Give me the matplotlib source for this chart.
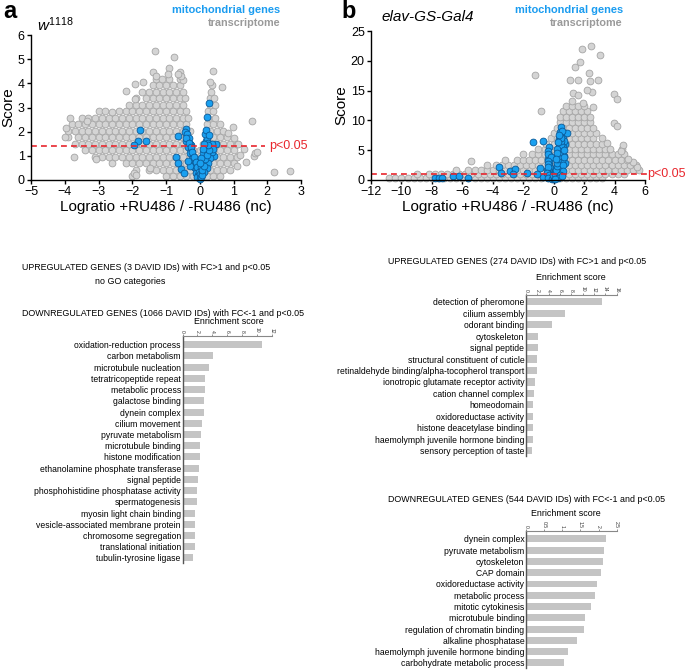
import matplotlib
matplotlib.use("Agg")
import matplotlib.pyplot as plt

plt.rcParams['font.family'] = ['Liberation Sans', 'DejaVu Sans']
plt.rcParams['mathtext.fontset'] = 'custom'
plt.rcParams['mathtext.it'] = 'Liberation Sans:italic'
plt.rcParams['mathtext.rm'] = 'Liberation Sans'

# ---------------- data: panel a (w1118), points (logratio, score) ----------------
a_grey_pts = [
    (-2.0, 0.15), (-1.0, 0.15), (-0.8, 0.15), (-0.6, 0.15), (-0.4, 0.15), (-0.2, 0.15), (0.0, 0.15), (0.2, 0.15), (0.4, 0.15), (0.6, 0.15),
    (-1.9, 0.42), (-1.5, 0.42), (-1.3, 0.42), (-1.1, 0.42), (-0.9, 0.42), (-0.7, 0.42), (-0.5, 0.42), (-0.3, 0.42), (-0.1, 0.42), (0.1, 0.42), (0.3, 0.42), (0.5, 0.42), (0.7, 0.42), (0.9, 0.42),
    (-2.6, 0.69), (-2.2, 0.69), (-2.0, 0.69), (-1.8, 0.69), (-1.6, 0.69), (-1.4, 0.69), (-1.2, 0.69), (-1.0, 0.69), (-0.8, 0.69), (-0.6, 0.69), (-0.4, 0.69), (-0.2, 0.69), (0.0, 0.69), (0.2, 0.69), (0.4, 0.69), (0.6, 0.69), (0.8, 0.69), (1.0, 0.69),
    (-3.1, 0.96), (-2.9, 0.96), (-2.7, 0.96), (-2.5, 0.96), (-2.3, 0.96), (-2.1, 0.96), (-1.9, 0.96), (-1.7, 0.96), (-1.5, 0.96), (-1.3, 0.96), (-1.1, 0.96), (-0.9, 0.96), (-0.7, 0.96), (-0.5, 0.96), (-0.3, 0.96), (-0.1, 0.96), (0.1, 0.96), (0.3, 0.96), (0.5, 0.96), (0.7, 0.96), (0.9, 0.96), (1.1, 0.96),
    (-3.4, 1.23), (-3.2, 1.23), (-3.0, 1.23), (-2.8, 1.23), (-2.6, 1.23), (-2.4, 1.23), (-2.2, 1.23), (-2.0, 1.23), (-1.8, 1.23), (-1.6, 1.23), (-1.4, 1.23), (-1.2, 1.23), (-1.0, 1.23), (-0.8, 1.23), (-0.6, 1.23), (-0.4, 1.23), (-0.2, 1.23), (0.0, 1.23), (0.2, 1.23), (0.4, 1.23), (0.6, 1.23), (0.8, 1.23), (1.0, 1.23),
    (-3.7, 1.5), (-3.5, 1.5), (-3.3, 1.5), (-3.1, 1.5), (-2.9, 1.5), (-2.7, 1.5), (-2.5, 1.5), (-2.3, 1.5), (-2.1, 1.5), (-1.9, 1.5), (-1.7, 1.5), (-1.5, 1.5), (-1.3, 1.5), (-1.1, 1.5), (-0.9, 1.5), (-0.7, 1.5), (-0.5, 1.5), (-0.3, 1.5), (0.1, 1.5), (0.3, 1.5), (0.5, 1.5), (0.7, 1.5), (0.9, 1.5), (1.1, 1.5),
    (-3.9, 1.77), (-3.6, 1.77), (-3.4, 1.77), (-3.2, 1.77), (-3.0, 1.77), (-2.8, 1.77), (-2.6, 1.77), (-2.4, 1.77), (-2.2, 1.77), (-2.0, 1.77), (-1.8, 1.77), (-1.6, 1.77), (-1.4, 1.77), (-1.2, 1.77), (-1.0, 1.77), (-0.8, 1.77), (-0.6, 1.77), (-0.4, 1.77), (0.2, 1.77), (0.4, 1.77), (0.6, 1.77), (0.8, 1.77),
    (-3.9, 2.04), (-3.7, 2.04), (-3.5, 2.04), (-3.3, 2.04), (-3.1, 2.04), (-2.9, 2.04), (-2.7, 2.04), (-2.5, 2.04), (-2.3, 2.04), (-2.1, 2.04), (-1.9, 2.04), (-1.7, 2.04), (-1.5, 2.04), (-1.3, 2.04), (-1.1, 2.04), (-0.9, 2.04), (-0.7, 2.04), (-0.5, 2.04), (-0.3, 2.04), (0.3, 2.04), (0.5, 2.04), (0.7, 2.04),
    (-3.8, 2.31), (-3.6, 2.31), (-3.4, 2.31), (-3.2, 2.31), (-3.0, 2.31), (-2.8, 2.31), (-2.6, 2.31), (-2.4, 2.31), (-2.2, 2.31), (-2.0, 2.31), (-1.8, 2.31), (-1.6, 2.31), (-1.4, 2.31), (-1.2, 2.31), (-1.0, 2.31), (-0.8, 2.31), (-0.6, 2.31), (-0.4, 2.31), (0.2, 2.31), (0.4, 2.31), (0.6, 2.31),
    (-3.5, 2.58), (-3.3, 2.58), (-3.1, 2.58), (-2.9, 2.58), (-2.7, 2.58), (-2.5, 2.58), (-2.3, 2.58), (-2.1, 2.58), (-1.9, 2.58), (-1.7, 2.58), (-1.5, 2.58), (-1.3, 2.58), (-1.1, 2.58), (-0.9, 2.58), (-0.7, 2.58), (-0.5, 2.58), (-0.35, 2.58), (0.25, 2.58), (0.45, 2.58),
    (-3.0, 2.85), (-2.8, 2.85), (-2.4, 2.85), (-2.2, 2.85), (-2.0, 2.85), (-1.8, 2.85), (-1.6, 2.85), (-1.4, 2.85), (-1.2, 2.85), (-1.0, 2.85), (-0.8, 2.85), (-0.6, 2.85), (-0.4, 2.85), (0.25, 2.85), (0.4, 2.85),
    (-2.1, 3.12), (-1.9, 3.12), (-1.7, 3.12), (-1.5, 3.12), (-1.3, 3.12), (-1.1, 3.12), (-0.9, 3.12), (-0.7, 3.12), (-0.5, 3.12), (0.3, 3.12), (0.45, 3.12),
    (-1.9, 3.39), (-1.6, 3.39), (-1.4, 3.39), (-1.2, 3.39), (-1.0, 3.39), (-0.8, 3.39), (-0.6, 3.39), (-0.45, 3.39), (0.3, 3.39), (0.42, 3.39),
    (-1.7, 3.66), (-1.5, 3.66), (-1.3, 3.66), (-1.1, 3.66), (-0.9, 3.66), (-0.7, 3.66), (-0.5, 3.66), (0.32, 3.66),
    (-1.4, 3.93), (-1.2, 3.93), (-1.0, 3.93), (-0.8, 3.93), (-0.6, 3.93), (0.35, 3.93),
    (-1.3, 4.2), (-0.9, 4.2), (-0.6, 4.2),
    (-4.0, 1.8), (-3.83, 2.55), (-3.97, 2.16), (-3.74, 0.95), (-3.07, 0.87), (-2.2, 3.68),
    (-1.93, 3.35), (-1.91, 3.97), (-1.68, 4.05), (-1.46, 0.49), (-1.34, 5.33), (-0.77, 5.07),
    (-0.92, 4.63), (0.38, 4.52), (-1.38, 4.46), (-1.3, 4.3), (-0.6, 4.45), (-0.5, 4.15),
    (-0.95, 4.4), (0.31, 4.04), (0.66, 3.83), (0.98, 2.18), (1.12, 1.47), (1.1, 0.56),
    (1.55, 2.43), (1.6, 1.0), (1.65, 1.1), (1.7, 1.17), (1.36, 0.73), (2.21, 0.34),
    (2.67, 0.37), (1.3, 1.3), (-1.95, 0.3), (-1.9, 0.2), (-1.13, 4.2), (-0.55, 4.3),
    (-0.65, 4.4), (1.0, 1.75), (1.2, 1.05), (-3.35, 2.45), (-2.6, 2.8), (0.85, 1.95),
]

a_blue_pts = [
    (-1.76, 2.07), (-1.83, 1.6), (-1.96, 1.43), (-1.58, 1.6), (-0.65, 1.84), (-0.4, 2.1),
    (-0.7, 0.95), (-0.65, 0.7), (-0.56, 0.45), (-0.48, 0.29), (0.28, 3.2), (0.2, 2.62),
    (0.49, 1.5), (0.41, 0.98),
    (-0.45, 2.0), (-0.38, 1.9), (-0.32, 1.75), (-0.42, 1.6), (-0.3, 1.5), (-0.35, 1.35),
    (-0.25, 1.25), (-0.3, 1.1), (-0.2, 1.0), (-0.22, 0.85), (-0.15, 0.7), (-0.18, 0.55),
    (-0.1, 0.45), (-0.12, 0.3), (-0.05, 0.22), (-0.08, 0.12), (0.0, 0.05), (-0.25, 1.45),
    (-0.28, 0.6), (-0.35, 0.8), (-0.4, 1.75), (-0.33, 1.55), (-0.27, 1.35), (-0.22, 1.15),
    (-0.17, 0.95), (-0.12, 0.75), (-0.07, 0.55), (-0.03, 0.35), (0.02, 0.25),
    (0.03, 0.12), (0.06, 0.3), (0.08, 0.45), (0.1, 0.6), (0.12, 0.8), (0.15, 1.0),
    (0.17, 1.2), (0.2, 1.4), (0.18, 1.6), (0.22, 1.75), (0.15, 1.9), (0.18, 2.05),
    (0.25, 1.55), (0.3, 1.35), (0.35, 1.15), (0.3, 0.9), (0.25, 0.7), (0.2, 0.5),
    (0.12, 0.35), (0.05, 0.55), (0.08, 0.2), (0.1, 1.1), (0.28, 1.85), (0.35, 1.5),
    (0.4, 1.3), (0.07, 0.4), (0.13, 0.6), (0.17, 0.85), (0.22, 1.05), (0.27, 1.25),
    (0.24, 1.45), (0.14, 1.5), (0.1, 1.3), (0.05, 0.9), (0.0, 0.7),
]

# ---------------- data: panel b (elav-GS-Gal4) ----------------
b_grey_pts = [
    (-10.8, 0.3), (-10.4, 0.3), (-10.0, 0.3), (-9.6, 0.3), (-9.2, 0.3), (-8.8, 0.3), (-8.4, 0.3), (-8.0, 0.3), (-7.6, 0.3), (-7.2, 0.3), (-6.8, 0.3), (-6.4, 0.3), (-6.0, 0.3), (-5.6, 0.3), (-5.2, 0.3), (-4.8, 0.3), (-4.4, 0.3), (-4.0, 0.3), (-3.6, 0.3), (-3.2, 0.3), (-2.8, 0.3), (-2.4, 0.3), (-2.0, 0.3), (-1.6, 0.3), (-1.2, 0.3), (-0.8, 0.3), (-0.4, 0.3), (0.0, 0.3), (0.4, 0.3), (0.8, 0.3), (1.2, 0.3), (1.6, 0.3), (2.0, 0.3), (2.4, 0.3), (2.8, 0.3), (3.2, 0.3),
    (-9.0, 0.95), (-8.2, 0.95), (-7.8, 0.95), (-7.4, 0.95), (-7.0, 0.95), (-6.6, 0.95), (-6.2, 0.95), (-5.8, 0.95), (-5.4, 0.95), (-5.0, 0.95), (-4.6, 0.95), (-4.2, 0.95), (-3.8, 0.95), (-3.4, 0.95), (-3.0, 0.95), (-2.6, 0.95), (-2.2, 0.95), (-1.8, 0.95), (-1.4, 0.95), (-1.0, 0.95), (-0.6, 0.95), (-0.2, 0.95), (0.2, 0.95), (0.6, 0.95), (1.0, 0.95), (1.4, 0.95), (1.8, 0.95), (2.2, 0.95), (2.6, 0.95), (3.0, 0.95), (3.4, 0.95), (3.8, 0.95), (4.2, 0.95), (4.6, 0.95),
    (-6.4, 1.7), (-5.6, 1.7), (-5.2, 1.7), (-4.8, 1.7), (-4.4, 1.7), (-4.0, 1.7), (-3.6, 1.7), (-3.2, 1.7), (-2.8, 1.7), (-2.4, 1.7), (-2.0, 1.7), (-1.6, 1.7), (-1.2, 1.7), (-0.8, 1.7), (-0.4, 1.7), (0.0, 1.7), (0.4, 1.7), (0.8, 1.7), (1.2, 1.7), (1.6, 1.7), (2.0, 1.7), (2.4, 1.7), (2.8, 1.7), (3.2, 1.7), (3.6, 1.7), (4.0, 1.7), (4.4, 1.7), (4.8, 1.7), (5.2, 1.7), (5.6, 1.7),
    (-4.4, 2.5), (-3.8, 2.5), (-3.4, 2.5), (-3.0, 2.5), (-2.6, 2.5), (-2.2, 2.5), (-1.8, 2.5), (-1.4, 2.5), (-1.0, 2.5), (-0.6, 2.5), (-0.2, 2.5), (0.2, 2.5), (0.6, 2.5), (1.0, 2.5), (1.4, 2.5), (1.8, 2.5), (2.2, 2.5), (2.6, 2.5), (3.0, 2.5), (3.4, 2.5), (3.8, 2.5), (4.2, 2.5), (4.6, 2.5), (5.0, 2.5), (5.4, 2.5),
    (-3.2, 3.4), (-2.4, 3.4), (-2.0, 3.4), (-1.6, 3.4), (-1.2, 3.4), (-0.8, 3.4), (-0.4, 3.4), (0.0, 3.4), (0.4, 3.4), (0.8, 3.4), (1.2, 3.4), (1.6, 3.4), (2.0, 3.4), (2.4, 3.4), (2.8, 3.4), (3.2, 3.4), (3.6, 3.4), (4.0, 3.4), (4.4, 3.4), (4.8, 3.4),
    (-2.0, 4.3), (-1.4, 4.3), (-1.0, 4.3), (-0.6, 4.3), (-0.2, 4.3), (0.2, 4.3), (0.6, 4.3), (1.0, 4.3), (1.4, 4.3), (1.8, 4.3), (2.2, 4.3), (2.6, 4.3), (3.0, 4.3), (3.4, 4.3), (3.8, 4.3), (4.2, 4.3), (4.6, 4.3),
    (-1.0, 5.2), (-0.6, 5.2), (-0.2, 5.2), (0.2, 5.2), (0.6, 5.2), (1.0, 5.2), (1.4, 5.2), (1.8, 5.2), (2.2, 5.2), (2.6, 5.2), (3.0, 5.2), (3.4, 5.2), (4.5, 5.2),
    (-0.5, 6.1), (0.0, 6.1), (0.4, 6.1), (0.8, 6.1), (1.2, 6.1), (1.6, 6.1), (2.0, 6.1), (2.4, 6.1), (2.8, 6.1), (3.2, 6.1),
    (-0.2, 7.0), (0.2, 7.0), (0.6, 7.0), (1.0, 7.0), (1.4, 7.0), (1.8, 7.0), (2.2, 7.0), (2.6, 7.0), (3.18, 7.0),
    (0.0, 7.9), (0.4, 7.9), (0.8, 7.9), (1.2, 7.9), (1.6, 7.9), (2.0, 7.9), (2.4, 7.9), (2.8, 7.9),
    (0.2, 8.8), (0.6, 8.8), (1.0, 8.8), (1.4, 8.8), (1.8, 8.8), (2.2, 8.8), (2.6, 8.8),
    (0.4, 9.7), (0.8, 9.7), (1.2, 9.7), (1.6, 9.7), (2.0, 9.7), (2.4, 9.7),
    (0.4, 10.6), (0.8, 10.6), (1.2, 10.6), (1.6, 10.6), (2.0, 10.6), (2.4, 10.6),
    (0.6, 11.5), (1.0, 11.5), (1.4, 11.5), (1.8, 11.5), (2.2, 11.5),
    (0.8, 12.4), (1.2, 12.4), (1.6, 12.4), (2.0, 12.4),
    (-1.22, 17.7), (-0.83, 11.6), (-5.4, 3.2), (1.07, 16.75), (1.58, 16.75), (1.4, 19.0),
    (1.76, 19.8), (1.83, 21.9), (2.44, 22.5), (3.05, 20.9), (2.31, 18.0), (2.41, 16.6),
    (2.9, 16.75), (2.5, 14.8), (1.3, 14.6), (1.92, 12.95), (2.6, 12.2), (1.6, 14.2),
    (2.17, 15.1), (3.98, 14.4), (4.14, 13.56), (3.98, 9.5), (4.14, 9.05), (4.58, 5.9),
    (4.45, 4.8), (3.5, 6.2), (3.7, 5.2), (5.45, 2.2), (5.2, 3.0), (4.9, 3.6), (1.2, 13.3),
]

b_blue_pts = [
    (-1.33, 6.35), (-0.67, 6.5), (-0.3, 5.6), (-0.93, 2.0), (-0.67, 0.5), (-7.82, 0.33),
    (-7.54, 0.39), (-7.32, 0.28), (-6.6, 0.72), (-6.23, 0.61), (-5.62, 0.33),
    (-3.6, 2.1), (-3.43, 1.17), (-2.86, 1.45), (-2.55, 1.84), (-2.7, 1.06), (-1.76, 1.11), (-1.1, 1.0),
    (-0.35, 4.8), (-0.3, 4.2), (-0.35, 3.6), (-0.28, 3.0), (-0.32, 2.5), (-0.25, 2.0),
    (-0.3, 1.5), (-0.2, 1.0), (-0.25, 0.6), (-0.15, 0.3), (-0.4, 4.4), (-0.2, 3.8), (-0.45, 1.6),
    (-0.35, 3.2), (-0.4, 2.7), (-0.35, 2.2), (-0.45, 1.2), (-0.3, 0.8), (-0.38, 0.4), (-0.1, 0.1),
    (0.1, 0.3), (0.15, 0.8), (0.12, 1.4), (0.18, 2.0), (0.2, 2.6), (0.22, 3.2), (0.25, 3.8),
    (0.28, 4.4), (0.3, 5.0), (0.32, 5.6), (0.35, 6.2), (0.38, 6.8), (0.4, 7.4), (0.42, 8.0),
    (0.47, 8.85), (0.55, 7.6), (0.6, 7.0), (0.86, 7.85), (0.77, 5.96), (0.77, 2.84), (0.5, 4.5),
    (0.55, 3.2), (0.45, 2.2), (0.6, 5.5), (0.65, 6.5), (0.35, 1.2), (0.0, 0.2), (0.05, 0.5),
    (-0.05, 0.9), (0.7, 4.0), (0.1, 1.0), (0.15, 1.7), (0.2, 2.3), (0.25, 2.9), (0.3, 3.5),
    (0.35, 4.1), (0.4, 4.7), (0.45, 5.3), (0.5, 5.9), (0.45, 6.5), (0.5, 7.1), (0.55, 8.2),
    (0.35, 7.5), (0.3, 6.4), (0.25, 5.2), (0.2, 4.6), (0.15, 3.5), (0.6, 2.5), (0.65, 3.8),
    (0.7, 5.0), (0.6, 1.5), (0.4, 0.8), (0.3, 0.3), (0.55, 0.6), (0.08, 0.1),
]

a_xticks = [-5, -4, -3, -2, -1, 0, 1, 2, 3]
a_yticks = [0, 1, 2, 3, 4, 5, 6]
b_xticks = [-12, -10, -8, -6, -4, -2, 0, 2, 4, 6]
b_yticks = [0, 5, 10, 15, 20, 25]
a_pval = 1.42
b_pval = 1.05

# ---------------- data: enrichment bars ----------------
a_down_terms = ["oxidation-reduction process", "carbon metabolism", "microtubule nucleation",
                "tetratricopeptide repeat", "metabolic process", "galactose binding",
                "dynein complex", "cilium movement", "pyruvate metabolism",
                "microtubule binding", "histone modification",
                "ethanolamine phosphate transferase", "signal peptide",
                "phosphohistidine phosphatase activity", "spermatogenesis",
                "myosin light chain binding", "vesicle-associated membrane protein",
                "chromosome segregation", "translational initiation", "tubulin-tyrosine ligase"]
a_down_scores = [10.6, 4.1, 3.49, 3.08, 3.08, 2.91, 2.91, 2.55, 2.47, 2.33, 2.28,
                 2.24, 2.14, 1.93, 1.88, 1.74, 1.70, 1.70, 1.70, 1.47]
a_down_ticks = [0, 2, 4, 6, 8, 10, 12]

b_up_terms = ["detection of pheromone", "cilium assembly", "odorant binding", "cytoskeleton",
              "signal peptide", "structural constituent of cuticle",
              "retinaldehyde binding/alpha-tocopherol transport",
              "ionotropic glutamate receptor activity", "cation channel complex",
              "homeodomain", "oxidoreductase activity", "histone deacetylase binding",
              "haemolymph juvenile hormone binding", "sensory perception of taste"]
b_up_scores = [13.35, 6.9, 4.6, 2.06, 2.06, 1.94, 1.88, 1.53, 1.47, 1.3, 1.3, 1.22, 1.2, 1.1]
b_up_ticks = [0, 2, 4, 6, 8, 10, 12, 14, 16]

b_down_terms = ["dynein complex", "pyruvate metabolism", "cytoskeleton", "CAP domain",
                "oxidoreductase activity", "metabolic process", "mitotic cytokinesis",
                "microtubule binding", "regulation of chromatin binding",
                "alkaline phosphatase", "haemolymph juvenile hormone binding",
                "carbohydrate metabolic process"]
b_down_scores = [2.2, 2.14, 2.11, 2.07, 1.95, 1.89, 1.8, 1.62, 1.61, 1.4, 1.15, 1.04]
b_down_ticks = [0, 0.5, 1, 1.5, 2, 2.5]
b_down_ticklabels = ["0", "0.5", "1", "1.5", "2", "2.5"]

# ---------------- figure ----------------
W, H = 685, 670
fig = plt.figure(figsize=(W / 100, H / 100), dpi=100)


def px_axes(left, top, right, bottom):
    return fig.add_axes([left / W, 1 - bottom / H, (right - left) / W, (bottom - top) / H])


def ftext(x, y, s, **kw):
    fig.text(x / W, 1 - y / H, s, **kw)


GREY_FACE = '#d4d4d4'
GREY_EDGE = '#a5a5a5'
BLUE_FACE = '#1aa0f0'
BLUE_EDGE = '#0b5a98'
RED = '#e8262d'
MS = 24


def volcano(ax, gpts, bpts, xlim, ylim, xticks, yticks):
    gx = [p[0] for p in gpts]
    gy = [p[1] for p in gpts]
    bx = [p[0] for p in bpts]
    by = [p[1] for p in bpts]
    ax.scatter(gx, gy, s=MS, facecolor=GREY_FACE, edgecolor=GREY_EDGE, linewidth=0.6,
               zorder=2, clip_on=False)
    ax.scatter(bx, by, s=MS, facecolor=BLUE_FACE, edgecolor=BLUE_EDGE, linewidth=0.6,
               zorder=3, clip_on=False)
    ax.set_xlim(*xlim)
    ax.set_ylim(*ylim)
    ax.set_xticks(xticks)
    ax.set_yticks(yticks)
    for s in ['top', 'right']:
        ax.spines[s].set_visible(False)
    for s in ['left', 'bottom']:
        ax.spines[s].set_linewidth(1.0)
        ax.spines[s].set_zorder(5)
    ax.tick_params(labelsize=9, length=3, width=1, pad=1.5)
    ax.set_xlabel('Logratio +RU486 / -RU486 (nc)', fontsize=11, labelpad=1)
    ax.set_ylabel('Score', fontsize=11, labelpad=2)


axA = px_axes(31, 35, 301, 180)
volcano(axA, a_grey_pts, a_blue_pts, (-5, 3), (0, 6), a_xticks, a_yticks)
axA.plot([-5, 1.93], [a_pval, a_pval], ls=(0, (3.5, 2.5)), color=RED, lw=1.2, zorder=4)
axA.text(2.05, a_pval, 'p<0.05', color=RED, fontsize=9, va='center', ha='left')

axB = px_axes(371, 31, 645, 180)
volcano(axB, b_grey_pts, b_blue_pts, (-12, 6), (0, 25), b_xticks, b_yticks)
axB.plot([-12, 6.1], [b_pval, b_pval], ls=(0, (3.5, 2.5)), color=RED, lw=1.2, zorder=4,
         clip_on=False)
axB.text(6.15, b_pval, 'p<0.05', color=RED, fontsize=9, va='center', ha='left')

# panel labels and legends
ftext(3, 11, 'a', fontsize=17, fontweight='bold', va='center', ha='left')
ftext(341, 11, 'b', fontsize=17, fontweight='bold', va='center', ha='left')
ftext(37, 25, r'$\mathit{w}^{\mathit{1118}}$', fontsize=11, va='center', ha='left')
ftext(381, 17, 'elav-GS-Gal4', fontsize=11, style='italic', va='center', ha='left')
ftext(280, 10, 'mitochondrial genes', fontsize=7.9, fontweight='bold', color='#1a9cf0',
      va='center', ha='right')
ftext(280, 22.5, 'transcriptome', fontsize=7.8, fontweight='bold', color='#9a9a9a',
      va='center', ha='right')
ftext(623, 10, 'mitochondrial genes', fontsize=7.9, fontweight='bold', color='#1a9cf0',
      va='center', ha='right')
ftext(622, 22.5, 'transcriptome', fontsize=7.8, fontweight='bold', color='#9a9a9a',
      va='center', ha='right')

BAR = '#c4c4c4'


def enrich(ax, terms, scores, ticks, ticklabels, xmax, ytop, ybot):
    pos = list(range(len(terms)))
    ax.barh(pos, scores, height=0.62, color=BAR, zorder=2)
    ax.set_xlim(0, xmax)
    ax.set_ylim(len(terms) - 1 + ybot, -ytop)
    ax.set_yticks(pos)
    ax.set_yticklabels(terms, fontsize=6.2)
    ax.tick_params(axis='y', length=0, pad=1.2)
    ax.xaxis.tick_top()
    ax.set_xticks(ticks)
    ax.set_xticklabels(ticklabels, rotation=-90, fontsize=3.6)
    ax.tick_params(axis='x', length=1.5, width=0.5, pad=0.6, colors='#666666',
                   labelcolor='#333333')
    for s in ['bottom', 'right']:
        ax.spines[s].set_visible(False)
    ax.spines['top'].set_color('#888888')
    ax.spines['top'].set_linewidth(0.8)
    ax.spines['left'].set_color('#555555')
    ax.spines['left'].set_linewidth(1.0)
    ax.patch.set_visible(False)


# panel a enrichment
ftext(146, 268, 'UPREGULATED GENES (3 DAVID IDs) with FC>1 and p<0.05', fontsize=6.4,
      ha='center', va='center')
ftext(130, 282, 'no GO categories', fontsize=6.4, ha='center', va='center')
ftext(163, 313, 'DOWNREGULATED GENES (1066 DAVID IDs) with FC<-1 and p<0.05', fontsize=6.4,
      ha='center', va='center')
ftext(229, 322, 'Enrichment score', fontsize=6.4, ha='center', va='center')
axC = px_axes(182.5, 336, 272, 563)
enrich(axC, a_down_terms, a_down_scores, a_down_ticks, [str(t) for t in a_down_ticks],
       12, 0.78, 0.45)

# panel b enrichment
ftext(517, 262, 'UPREGULATED GENES (274 DAVID IDs) with FC>1 and p<0.05', fontsize=6.4,
      ha='center', va='center')
ftext(571, 278, 'Enrichment score', fontsize=6.4, ha='center', va='center')
axD = px_axes(526, 295, 616.7, 456)
enrich(axD, b_up_terms, b_up_scores, b_up_ticks, [str(t) for t in b_up_ticks],
       16, 0.58, 0.45)

ftext(527, 500, 'DOWNREGULATED GENES (544 DAVID IDs) with FC<-1 and p<0.05', fontsize=6.4,
      ha='center', va='center')
ftext(566, 514, 'Enrichment score', fontsize=6.4, ha='center', va='center')
axE = px_axes(526, 531, 616.7, 668)
enrich(axE, b_down_terms, b_down_scores, b_down_ticks, b_down_ticklabels,
       2.5, 0.7, 0.45)

fig.savefig('out.png', dpi=100)
